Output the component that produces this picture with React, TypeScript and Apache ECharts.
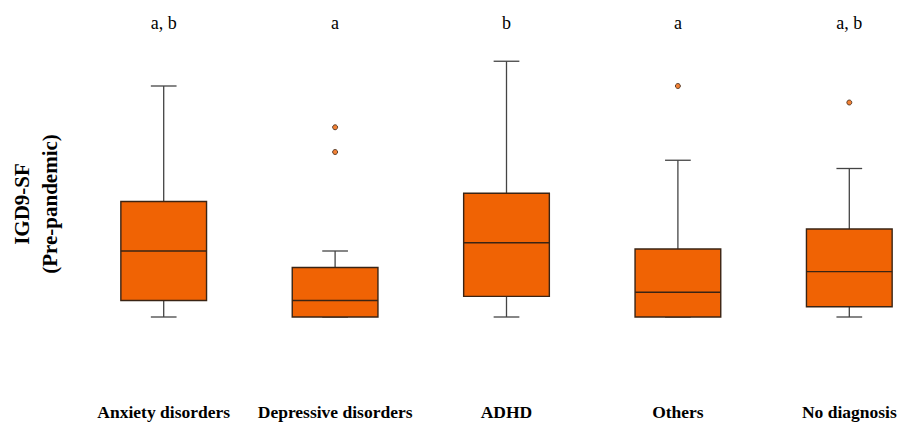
import React, { useEffect, useRef } from "react";
import * as echarts from "echarts";

const categories = ["Anxiety disorders", "Depressive disorders", "ADHD", "Others", "No diagnosis"];
const groupLetters = ["a, b", "a", "b", "a", "a, b"];
const whiskerLow = [9, 9, 9, 9, 9];
const quartile1 = [11, 9, 11.5, 9, 10.25];
const medians = [17, 11, 18, 12, 14.5];
const quartile3 = [23, 15, 24, 17.25, 19.67];
const whiskerHigh = [37, 17, 40, 28, 27];
const outliers: [number, number][] = [
  [1, 29],
  [1, 32],
  [3, 37],
  [4, 35],
];

const FILL = "#F06304";
const EDGE = "#3a2414";
const WHISKER = "#444444";
const SERIF = "'Liberation Serif', 'Times New Roman', serif";

export default function App() {
  const ref = useRef<HTMLDivElement>(null);

  useEffect(() => {
    document.body.style.margin = "0";
    if (!ref.current) return;
    const chart = echarts.init(ref.current, undefined, { renderer: "svg" });
    const boxData = categories.map((_, i) => [
      i,
      whiskerLow[i],
      quartile1[i],
      medians[i],
      quartile3[i],
      whiskerHigh[i],
    ]);

    chart.setOption({
      animation: false,
      backgroundColor: "#ffffff",
      grid: { left: 78, width: 857, top: 44.75, height: 272.25 },
      xAxis: [
        {
          type: "category",
          data: categories,
          position: "bottom",
          axisLine: { show: false },
          axisTick: { show: false },
          splitLine: { show: false },
          axisLabel: {
            margin: 86,
            color: "#000",
            fontFamily: SERIF,
            fontWeight: "bold",
            fontSize: 17.5,
            interval: 0,
          },
        },
        {
          type: "category",
          data: groupLetters,
          position: "top",
          axisLine: { show: false },
          axisTick: { show: false },
          splitLine: { show: false },
          axisLabel: {
            margin: 13,
            color: "#000",
            fontFamily: SERIF,
            fontSize: 18,
            interval: 0,
          },
        },
      ],
      yAxis: { type: "value", min: 9, max: 42, show: false },
      graphic: [
        {
          type: "text",
          x: 36,
          y: 204,
          rotation: Math.PI / 2,
          style: {
            text: "IGD9-SF\n(Pre-pandemic)",
            font: `bold 21px ${SERIF}`,
            fill: "#000",
            align: "center",
            verticalAlign: "middle",
            lineHeight: 28,
          },
        },
      ],
      series: [
        {
          type: "custom",
          xAxisIndex: 0,
          yAxisIndex: 0,
          data: boxData,
          renderItem: (params: any, api: any) => {
            const idx = api.value(0);
            const lo = api.coord([idx, api.value(1)]);
            const q1 = api.coord([idx, api.value(2)]);
            const med = api.coord([idx, api.value(3)]);
            const q3 = api.coord([idx, api.value(4)]);
            const hi = api.coord([idx, api.value(5)]);
            const band = api.size([1, 0])[0];
            const hw = band * 0.25;
            const cw = band * 0.075;
            const x = lo[0];
            const lineStyle = { stroke: WHISKER, lineWidth: 1.3 };
            return {
              type: "group",
              children: [
                { type: "line", shape: { x1: x, y1: hi[1], x2: x, y2: q3[1] }, style: lineStyle },
                { type: "line", shape: { x1: x, y1: lo[1], x2: x, y2: q1[1] }, style: lineStyle },
                { type: "line", shape: { x1: x - cw, y1: hi[1], x2: x + cw, y2: hi[1] }, style: lineStyle },
                { type: "line", shape: { x1: x - cw, y1: lo[1], x2: x + cw, y2: lo[1] }, style: lineStyle },
                {
                  type: "rect",
                  shape: { x: x - hw, y: q3[1], width: hw * 2, height: q1[1] - q3[1] },
                  style: { fill: FILL, stroke: EDGE, lineWidth: 1.4 },
                },
                {
                  type: "line",
                  shape: { x1: x - hw, y1: med[1], x2: x + hw, y2: med[1] },
                  style: { stroke: EDGE, lineWidth: 1.4 },
                },
              ],
            };
          },
        },
        {
          type: "scatter",
          xAxisIndex: 0,
          yAxisIndex: 0,
          data: outliers,
          symbol: "circle",
          symbolSize: 5,
          itemStyle: { color: FILL, borderColor: EDGE, borderWidth: 1 },
        },
      ],
    });

    return () => chart.dispose();
  }, []);

  return (
    <div style={{ width: 905, height: 423, overflow: "hidden", position: "relative" }}>
      <div ref={ref} style={{ width: 940, height: 423 }} />
    </div>
  );
}
